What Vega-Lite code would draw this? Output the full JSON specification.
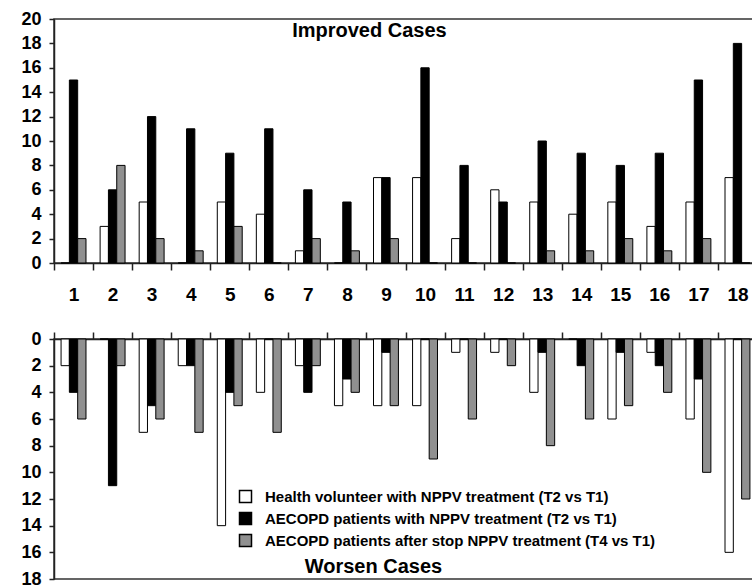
{
  "$schema": "https://vega.github.io/schema/vega-lite/v6.json",
  "background": "white",
  "padding": {"left": 20, "top": 9, "right": 0, "bottom": 0},
  "config": {
    "font": "Liberation Sans",
    "axis": {"labelFont": "Liberation Sans", "labelFontWeight": "bold", "labelColor": "#000", "domainColor": "#222", "tickColor": "#222", "domainWidth": 1.5, "tickWidth": 1.5, "grid": false},
    "view": {"stroke": "#333", "strokeWidth": 1.5}
  },
  "datasets": {
    "d": [
      {"case": 1, "series": "Health volunteer with NPPV treatment (T2 vs T1)", "improved": 0, "worsen": 2},
      {"case": 1, "series": "AECOPD patients with NPPV treatment (T2 vs T1)", "improved": 15, "worsen": 4},
      {"case": 1, "series": "AECOPD patients after stop NPPV treatment (T4 vs T1)", "improved": 2, "worsen": 6},
      {"case": 2, "series": "Health volunteer with NPPV treatment (T2 vs T1)", "improved": 3, "worsen": 0},
      {"case": 2, "series": "AECOPD patients with NPPV treatment (T2 vs T1)", "improved": 6, "worsen": 11},
      {"case": 2, "series": "AECOPD patients after stop NPPV treatment (T4 vs T1)", "improved": 8, "worsen": 2},
      {"case": 3, "series": "Health volunteer with NPPV treatment (T2 vs T1)", "improved": 5, "worsen": 7},
      {"case": 3, "series": "AECOPD patients with NPPV treatment (T2 vs T1)", "improved": 12, "worsen": 5},
      {"case": 3, "series": "AECOPD patients after stop NPPV treatment (T4 vs T1)", "improved": 2, "worsen": 6},
      {"case": 4, "series": "Health volunteer with NPPV treatment (T2 vs T1)", "improved": 0, "worsen": 2},
      {"case": 4, "series": "AECOPD patients with NPPV treatment (T2 vs T1)", "improved": 11, "worsen": 2},
      {"case": 4, "series": "AECOPD patients after stop NPPV treatment (T4 vs T1)", "improved": 1, "worsen": 7},
      {"case": 5, "series": "Health volunteer with NPPV treatment (T2 vs T1)", "improved": 5, "worsen": 14},
      {"case": 5, "series": "AECOPD patients with NPPV treatment (T2 vs T1)", "improved": 9, "worsen": 4},
      {"case": 5, "series": "AECOPD patients after stop NPPV treatment (T4 vs T1)", "improved": 3, "worsen": 5},
      {"case": 6, "series": "Health volunteer with NPPV treatment (T2 vs T1)", "improved": 4, "worsen": 4},
      {"case": 6, "series": "AECOPD patients with NPPV treatment (T2 vs T1)", "improved": 11, "worsen": 0},
      {"case": 6, "series": "AECOPD patients after stop NPPV treatment (T4 vs T1)", "improved": 0, "worsen": 7},
      {"case": 7, "series": "Health volunteer with NPPV treatment (T2 vs T1)", "improved": 1, "worsen": 2},
      {"case": 7, "series": "AECOPD patients with NPPV treatment (T2 vs T1)", "improved": 6, "worsen": 4},
      {"case": 7, "series": "AECOPD patients after stop NPPV treatment (T4 vs T1)", "improved": 2, "worsen": 2},
      {"case": 8, "series": "Health volunteer with NPPV treatment (T2 vs T1)", "improved": 0, "worsen": 5},
      {"case": 8, "series": "AECOPD patients with NPPV treatment (T2 vs T1)", "improved": 5, "worsen": 3},
      {"case": 8, "series": "AECOPD patients after stop NPPV treatment (T4 vs T1)", "improved": 1, "worsen": 4},
      {"case": 9, "series": "Health volunteer with NPPV treatment (T2 vs T1)", "improved": 7, "worsen": 5},
      {"case": 9, "series": "AECOPD patients with NPPV treatment (T2 vs T1)", "improved": 7, "worsen": 1},
      {"case": 9, "series": "AECOPD patients after stop NPPV treatment (T4 vs T1)", "improved": 2, "worsen": 5},
      {"case": 10, "series": "Health volunteer with NPPV treatment (T2 vs T1)", "improved": 7, "worsen": 5},
      {"case": 10, "series": "AECOPD patients with NPPV treatment (T2 vs T1)", "improved": 16, "worsen": 0},
      {"case": 10, "series": "AECOPD patients after stop NPPV treatment (T4 vs T1)", "improved": 0, "worsen": 9},
      {"case": 11, "series": "Health volunteer with NPPV treatment (T2 vs T1)", "improved": 2, "worsen": 1},
      {"case": 11, "series": "AECOPD patients with NPPV treatment (T2 vs T1)", "improved": 8, "worsen": 0},
      {"case": 11, "series": "AECOPD patients after stop NPPV treatment (T4 vs T1)", "improved": 0, "worsen": 6},
      {"case": 12, "series": "Health volunteer with NPPV treatment (T2 vs T1)", "improved": 6, "worsen": 1},
      {"case": 12, "series": "AECOPD patients with NPPV treatment (T2 vs T1)", "improved": 5, "worsen": 0},
      {"case": 12, "series": "AECOPD patients after stop NPPV treatment (T4 vs T1)", "improved": 0, "worsen": 2},
      {"case": 13, "series": "Health volunteer with NPPV treatment (T2 vs T1)", "improved": 5, "worsen": 4},
      {"case": 13, "series": "AECOPD patients with NPPV treatment (T2 vs T1)", "improved": 10, "worsen": 1},
      {"case": 13, "series": "AECOPD patients after stop NPPV treatment (T4 vs T1)", "improved": 1, "worsen": 8},
      {"case": 14, "series": "Health volunteer with NPPV treatment (T2 vs T1)", "improved": 4, "worsen": 0},
      {"case": 14, "series": "AECOPD patients with NPPV treatment (T2 vs T1)", "improved": 9, "worsen": 2},
      {"case": 14, "series": "AECOPD patients after stop NPPV treatment (T4 vs T1)", "improved": 1, "worsen": 6},
      {"case": 15, "series": "Health volunteer with NPPV treatment (T2 vs T1)", "improved": 5, "worsen": 6},
      {"case": 15, "series": "AECOPD patients with NPPV treatment (T2 vs T1)", "improved": 8, "worsen": 1},
      {"case": 15, "series": "AECOPD patients after stop NPPV treatment (T4 vs T1)", "improved": 2, "worsen": 5},
      {"case": 16, "series": "Health volunteer with NPPV treatment (T2 vs T1)", "improved": 3, "worsen": 1},
      {"case": 16, "series": "AECOPD patients with NPPV treatment (T2 vs T1)", "improved": 9, "worsen": 2},
      {"case": 16, "series": "AECOPD patients after stop NPPV treatment (T4 vs T1)", "improved": 1, "worsen": 4},
      {"case": 17, "series": "Health volunteer with NPPV treatment (T2 vs T1)", "improved": 5, "worsen": 6},
      {"case": 17, "series": "AECOPD patients with NPPV treatment (T2 vs T1)", "improved": 15, "worsen": 3},
      {"case": 17, "series": "AECOPD patients after stop NPPV treatment (T4 vs T1)", "improved": 2, "worsen": 10},
      {"case": 18, "series": "Health volunteer with NPPV treatment (T2 vs T1)", "improved": 7, "worsen": 16},
      {"case": 18, "series": "AECOPD patients with NPPV treatment (T2 vs T1)", "improved": 18, "worsen": 0},
      {"case": 18, "series": "AECOPD patients after stop NPPV treatment (T4 vs T1)", "improved": 0, "worsen": 12}
    ],
    "titles": [
      {"panel": "top", "label": "Improved Cases", "case": 9, "pos": 19},
      {"panel": "bottom", "label": "Worsen Cases", "case": 9, "pos": 17.1}
    ]
  },
  "spacing": 76,
  "bounds": "flush",
  "resolve": {"legend": {"fill": "independent"}},
  "vconcat": [
    {
      "width": 703,
      "height": 244,
      "encoding": {
        "x": {"field": "case", "type": "ordinal", "scale": {"paddingInner": 0, "paddingOuter": 0},
              "axis": {"title": null, "tickBand": "extent", "labelAngle": 0, "labelFontSize": 19, "tickSize": 7, "labelPadding": 15}},
        "y": {"type": "quantitative", "scale": {"domain": [0, 20]},
              "axis": {"title": null, "values": [0, 2, 4, 6, 8, 10, 12, 14, 16, 18, 20], "tickSize": 5, "labelPadding": 8, "labelFontSize": 18, "labelOverlap": false}}
      },
      "layer": [
        {
          "data": {"name": "d"},
          "mark": {"type": "bar", "stroke": "#000", "strokeWidth": 1},
          "encoding": {
            "xOffset": {"field": "series", "type": "nominal",
                        "sort": ["Health volunteer with NPPV treatment (T2 vs T1)", "AECOPD patients with NPPV treatment (T2 vs T1)", "AECOPD patients after stop NPPV treatment (T4 vs T1)"],
                        "scale": {"paddingInner": 0, "paddingOuter": 0.85}},
            "y": {"field": "improved", "type": "quantitative", "scale": {"domain": [0, 20]},
                  "axis": {"title": null, "values": [0, 2, 4, 6, 8, 10, 12, 14, 16, 18, 20], "tickSize": 5, "labelPadding": 8, "labelFontSize": 18, "labelOverlap": false}},
            "fill": {"field": "series", "type": "nominal",
                     "scale": {"domain": ["Health volunteer with NPPV treatment (T2 vs T1)", "AECOPD patients with NPPV treatment (T2 vs T1)", "AECOPD patients after stop NPPV treatment (T4 vs T1)"], "range": ["#ffffff", "#000000", "#909090"]},
                     "legend": null}
          }
        },
        {
          "data": {"name": "titles"},
          "transform": [{"filter": "datum.panel === 'top'"}],
          "mark": {"type": "text", "font": "Liberation Sans", "fontWeight": "bold", "fontSize": 20, "align": "center", "baseline": "middle", "dx": 3, "color": "#000"},
          "encoding": {
            "x": {"field": "case", "type": "ordinal", "bandPosition": 0},
            "y": {"field": "pos", "type": "quantitative", "scale": {"domain": [0, 20]},
                  "axis": {"title": null, "values": [0, 2, 4, 6, 8, 10, 12, 14, 16, 18, 20], "tickSize": 5, "labelPadding": 8, "labelFontSize": 18, "labelOverlap": false}},
            "text": {"field": "label"}
          }
        }
      ]
    },
    {
      "width": 703,
      "height": 240,
      "encoding": {
        "x": {"field": "case", "type": "ordinal", "scale": {"paddingInner": 0, "paddingOuter": 0},
              "axis": {"title": null, "orient": "top", "tickBand": "extent", "labels": false, "tickSize": 7}}
      },
      "layer": [
        {
          "data": {"name": "d"},
          "mark": {"type": "bar", "stroke": "#000", "strokeWidth": 1},
          "encoding": {
            "xOffset": {"field": "series", "type": "nominal",
                        "sort": ["Health volunteer with NPPV treatment (T2 vs T1)", "AECOPD patients with NPPV treatment (T2 vs T1)", "AECOPD patients after stop NPPV treatment (T4 vs T1)"],
                        "scale": {"paddingInner": 0, "paddingOuter": 0.85}},
            "y": {"field": "worsen", "type": "quantitative", "scale": {"domain": [0, 18], "reverse": true},
                  "axis": {"title": null, "values": [0, 2, 4, 6, 8, 10, 12, 14, 16, 18], "tickSize": 5, "labelPadding": 8, "labelFontSize": 18, "labelOverlap": false}},
            "fill": {"field": "series", "type": "nominal",
                     "scale": {"domain": ["Health volunteer with NPPV treatment (T2 vs T1)", "AECOPD patients with NPPV treatment (T2 vs T1)", "AECOPD patients after stop NPPV treatment (T4 vs T1)"], "range": ["#ffffff", "#000000", "#909090"]},
                     "legend": {"orient": "none", "legendX": 184, "legendY": 150, "title": null, "symbolType": "square", "symbolSize": 144,
                                "symbolStrokeColor": "#000", "symbolStrokeWidth": 1.5, "labelFont": "Liberation Sans", "labelFontSize": 15, "labelFontWeight": "bold",
                                "labelColor": "#000", "labelOffset": 12, "rowPadding": 3, "labelLimit": 600, "padding": 0}}
          }
        },
        {
          "data": {"name": "titles"},
          "transform": [{"filter": "datum.panel === 'bottom'"}],
          "mark": {"type": "text", "font": "Liberation Sans", "fontWeight": "bold", "fontSize": 20, "align": "center", "baseline": "middle", "dx": 7, "color": "#000"},
          "encoding": {
            "x": {"field": "case", "type": "ordinal", "bandPosition": 0},
            "y": {"field": "pos", "type": "quantitative", "scale": {"domain": [0, 18], "reverse": true},
                  "axis": {"title": null, "values": [0, 2, 4, 6, 8, 10, 12, 14, 16, 18], "tickSize": 5, "labelPadding": 8, "labelFontSize": 18, "labelOverlap": false}},
            "text": {"field": "label"}
          }
        }
      ]
    }
  ]
}
